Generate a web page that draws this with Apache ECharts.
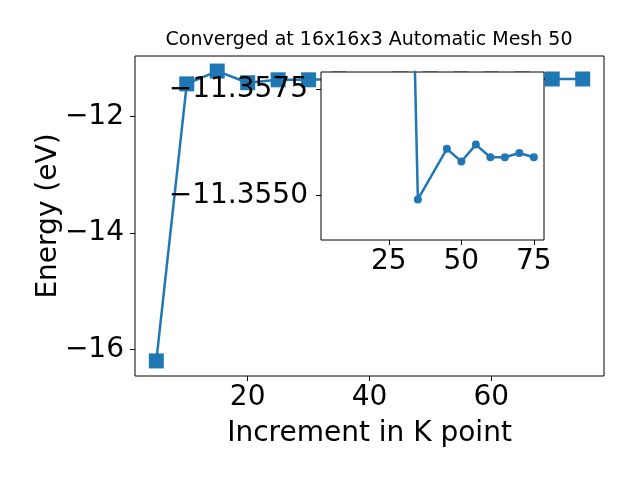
<!DOCTYPE html>
<html>
<head>
<meta charset="utf-8">
<script src="https://cdn.jsdelivr.net/npm/echarts@6/dist/echarts.min.js"></script>
<style>html,body{margin:0;padding:0;background:#fff}#c{width:640px;height:480px}</style>
</head>
<body>
<div id="c"></div>
<script>
const titleText = 'Converged at 16x16x3 Automatic Mesh 50';
const xLabel = 'Increment in K point';
const yLabel = 'Energy (eV)';
const kpoints = [5, 10, 15, 20, 25, 30, 35, 45, 50, 55, 60, 65, 70, 75];
const energy = [-16.20, -11.44, -11.22, -11.42, -11.37, -11.37, -11.3549, -11.3561, -11.3558, -11.3562, -11.3559, -11.3559, -11.3560, -11.3559];
const insetStart = 5; // inset shows points from k = 30 onward
const mainXTicks = [20, 40, 60];
const mainYTicks = [-16, -14, -12];
const insetXTicks = [25, 50, 75];
const insetYTicks = [-11.3575, -11.3550];

const FONT = 'DejaVu Sans';
const FS = 28;
const C = '#1f77b4';
const minus = (s) => s.replace('-', '\u2212');

const mainData = kpoints.map((k, i) => [k, energy[i]]);
const insetData = kpoints.slice(insetStart).map((k, i) => [k, energy[i + insetStart]]);

const chart = echarts.init(document.getElementById('c'), null, {renderer: 'canvas'});
chart.setOption({
  animation: false,
  backgroundColor: '#fff',
  graphic: [{
    type: 'text', x: 369, y: 40, z: 10,
    style: {text: titleText, font: '19px "DejaVu Sans"', fill: '#000', textAlign: 'center', textVerticalAlign: 'middle'}
  }],
  grid: [
    {left: 135, right: 36, top: 56, bottom: 104, show: true, borderColor: '#000', borderWidth: 1, backgroundColor: 'transparent', z: 0},
    {left: 321, width: 223, top: 72, height: 168, show: true, borderColor: '#000', borderWidth: 1, backgroundColor: '#fff', z: 5}
  ],
  xAxis: [
    {type: 'value', gridIndex: 0, min: 1.5, max: 78.5,
     axisLine: {show: false, onZero: false}, splitLine: {show: false},
     axisTick: {show: true, length: 5, customValues: mainXTicks, lineStyle: {color: '#000'}},
     axisLabel: {customValues: mainXTicks, fontFamily: FONT, fontSize: FS, color: '#000', margin: 8},
     name: xLabel, nameLocation: 'middle', nameGap: 44, nameMoveOverlap: false,
     nameTextStyle: {fontFamily: FONT, fontSize: FS, color: '#000'}},
    {type: 'value', gridIndex: 1, min: 1.6, max: 78.5, z: 8,
     axisLine: {show: false, onZero: false}, splitLine: {show: false},
     axisTick: {show: true, length: 5, customValues: insetXTicks, lineStyle: {color: '#000'}},
     axisLabel: {customValues: insetXTicks, fontFamily: FONT, fontSize: FS, color: '#000', margin: 8}}
  ],
  yAxis: [
    {type: 'value', gridIndex: 0, min: -16.459, max: -10.961,
     axisLine: {show: false, onZero: false}, splitLine: {show: false},
     axisTick: {show: true, length: 5, customValues: mainYTicks, lineStyle: {color: '#000'}},
     axisLabel: {customValues: mainYTicks, fontFamily: FONT, fontSize: FS, color: '#000', margin: 11,
                 formatter: (v) => minus(String(v))},
     name: yLabel, nameLocation: 'middle', nameGap: 72, nameRotate: 90, nameMoveOverlap: false,
     nameTextStyle: {fontFamily: FONT, fontSize: FS, color: '#000'}},
    {type: 'value', gridIndex: 1, inverse: true, min: -11.35792, max: -11.35394, z: 8,
     axisLine: {show: false, onZero: false}, splitLine: {show: false},
     axisTick: {show: true, length: 5, customValues: insetYTicks, lineStyle: {color: '#000'}},
     axisLabel: {customValues: insetYTicks, fontFamily: FONT, fontSize: FS, color: '#000', margin: 13,
                 formatter: (v) => minus(v.toFixed(4))}}
  ],
  series: [
    {type: 'line', xAxisIndex: 0, yAxisIndex: 0, data: mainData, z: 2,
     symbol: 'rect', symbolSize: 15, showAllSymbol: true,
     lineStyle: {color: C, width: 2.5}, itemStyle: {color: C}},
    {type: 'line', xAxisIndex: 1, yAxisIndex: 1, data: insetData, z: 7, clip: true,
     symbol: 'circle', symbolSize: 8, showAllSymbol: true,
     lineStyle: {color: C, width: 2.5}, itemStyle: {color: C}}
  ]
});
</script>
</body>
</html>
